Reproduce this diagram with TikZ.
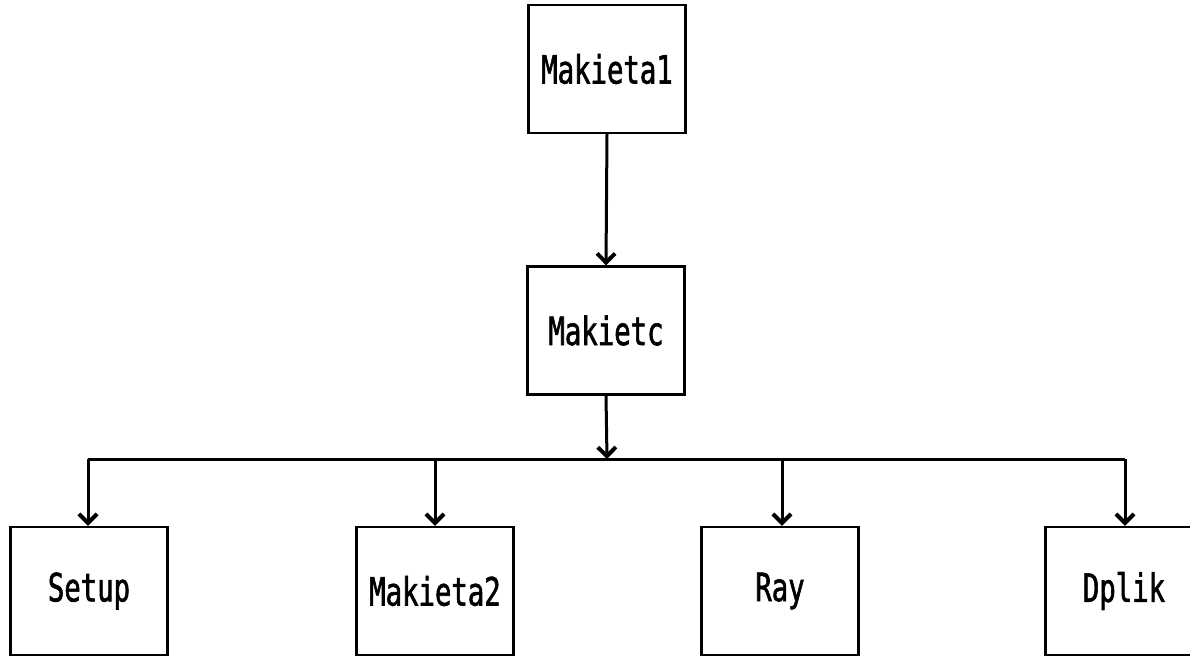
\documentclass[tikz,border=0pt]{standalone}
\usepackage{fontspec}
\usetikzlibrary{arrows.meta}
\newfontfamily\plotfont[FakeStretch=0.7,FakeBold=1.5]{DejaVu Sans Mono}
\begin{document}
\begin{tikzpicture}[x=0.5pt,y=-0.5pt,
  box/.style={draw,line width=1.2pt,minimum width=78.5pt,minimum height=64pt,inner sep=0pt,font=\plotfont\fontsize{19.5}{21}\selectfont},
  link/.style={line width=1.5pt,-{Straight Barb[length=4.5pt,width=9pt,line width=2pt]}},
  bus/.style={line width=1.5pt}]
\useasboundingbox (0,0) rectangle (1190,658);
\node[box] (m1) at (607,69) {Makieta1};
\node[box] (mc) at (606,330.5) {Makietc};
\node[box] (setup) at (89,591) {Setup};
\node[box] (m2) at (435,591) {Makieta2};
\node[box] (ray) at (780,591) {Ray};
\node[box] (dplik) at (1124,591) {Dplik};
\coordinate (j) at (607,459);
\coordinate (bl) at (88,459);
\coordinate (bm2) at (435,459);
\coordinate (bray) at (782,459);
\coordinate (br) at (1125,459);
\draw[link] (m1.south) -- (mc.north);
\draw[link] (mc.south) -- (j);
\draw[bus] (bl) -- (br);
\draw[link] (bl) -- (bl |- setup.north);
\draw[link] (bm2) -- (bm2 |- m2.north);
\draw[link] (bray) -- (bray |- ray.north);
\draw[link] (br) -- (br |- dplik.north);
\end{tikzpicture}
\end{document}
